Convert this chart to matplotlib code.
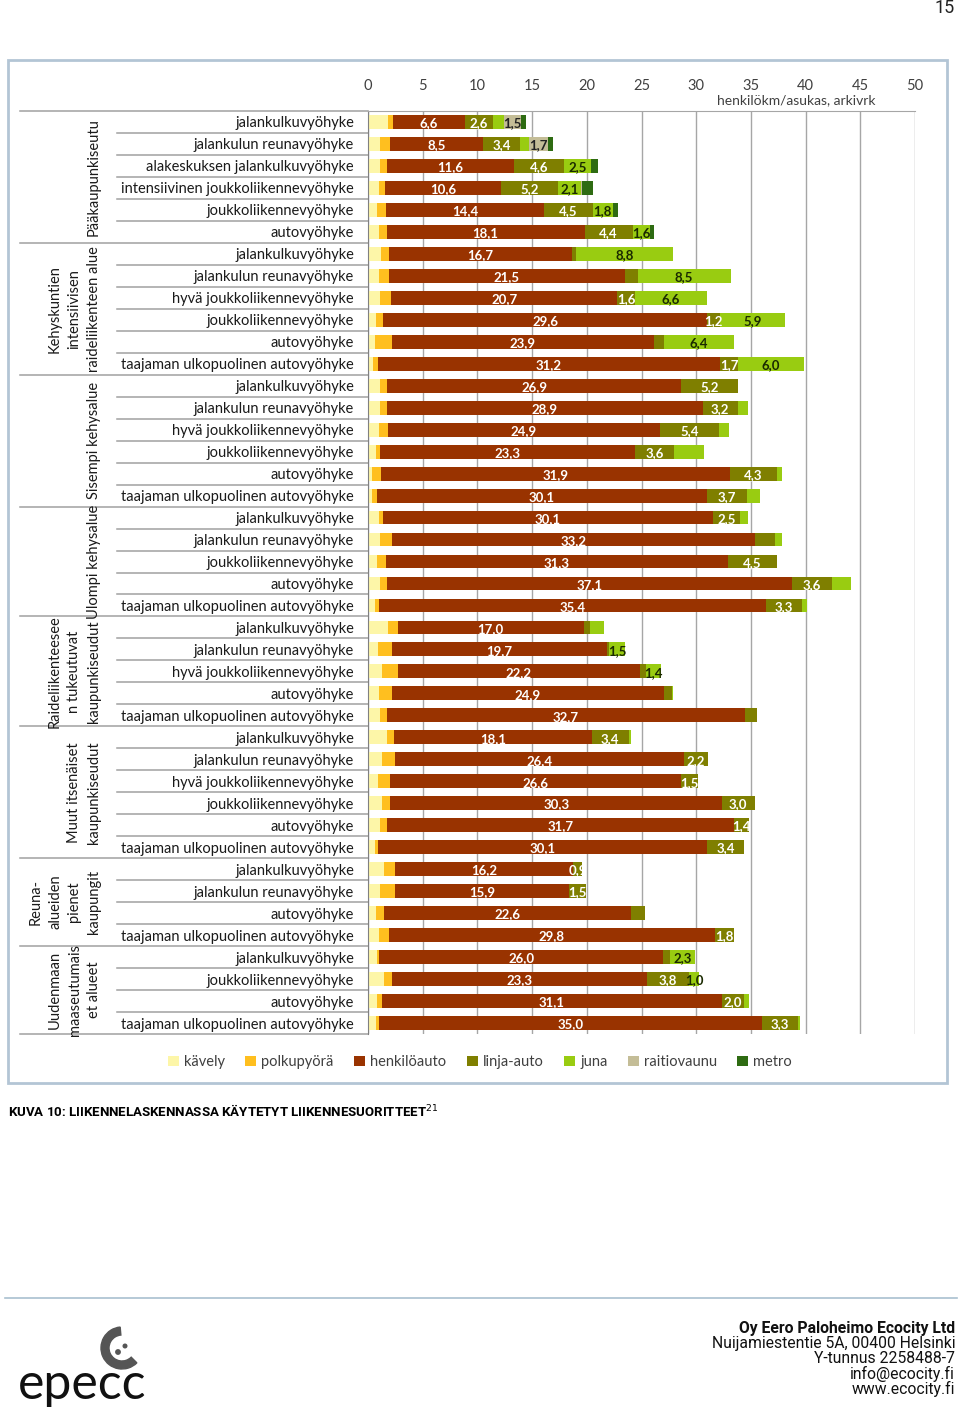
import matplotlib
matplotlib.use("Agg")
import matplotlib.pyplot as plt
import matplotlib.transforms as mtransforms
from matplotlib.patches import Rectangle, Wedge, Circle
import numpy as np

plt.rcParams['font.family'] = ['Lato', 'DejaVu Sans']

# --- data -------------------------------------------------------------
groups = ["Pääkaupunkiseutu",
          "Kehyskuntien\nintensiivisen\nraideliikenteen alue",
          "Sisempi kehysalue",
          "Ulompi kehysalue",
          "Raideliikenteesee\nn tukeutuvat\nkaupunkiseudut",
          "Muut itsenäiset\nkaupunkiseudut",
          "Reuna-\nalueiden\npienet\nkaupungit",
          "Uudenmaan\nmaaseutumais\net alueet"]
group_sizes = [6, 6, 6, 5, 5, 6, 4, 4]

zones = [
    "jalankulkuvyöhyke", "jalankulun reunavyöhyke", "alakeskuksen jalankulkuvyöhyke",
    "intensiivinen joukkoliikennevyöhyke", "joukkoliikennevyöhyke", "autovyöhyke",
    "jalankulkuvyöhyke", "jalankulun reunavyöhyke", "hyvä joukkoliikennevyöhyke",
    "joukkoliikennevyöhyke", "autovyöhyke", "taajaman ulkopuolinen autovyöhyke",
    "jalankulkuvyöhyke", "jalankulun reunavyöhyke", "hyvä joukkoliikennevyöhyke",
    "joukkoliikennevyöhyke", "autovyöhyke", "taajaman ulkopuolinen autovyöhyke",
    "jalankulkuvyöhyke", "jalankulun reunavyöhyke", "joukkoliikennevyöhyke",
    "autovyöhyke", "taajaman ulkopuolinen autovyöhyke",
    "jalankulkuvyöhyke", "jalankulun reunavyöhyke", "hyvä joukkoliikennevyöhyke",
    "autovyöhyke", "taajaman ulkopuolinen autovyöhyke",
    "jalankulkuvyöhyke", "jalankulun reunavyöhyke", "hyvä joukkoliikennevyöhyke",
    "joukkoliikennevyöhyke", "autovyöhyke", "taajaman ulkopuolinen autovyöhyke",
    "jalankulkuvyöhyke", "jalankulun reunavyöhyke", "autovyöhyke",
    "taajaman ulkopuolinen autovyöhyke",
    "jalankulkuvyöhyke", "joukkoliikennevyöhyke", "autovyöhyke",
    "taajaman ulkopuolinen autovyöhyke",
]

kavely = [1.8, 1.1, 1.1, 1.0, 0.8, 1.0,
          1.2, 1.0, 1.1, 0.7, 0.6, 0.5,
          1.1, 1.1, 1.0, 0.7, 0.4, 0.4,
          1.0, 1.1, 0.8, 1.1, 0.6,
          1.8, 0.9, 1.3, 1.0, 1.1,
          1.7, 1.3, 0.9, 1.3, 1.1, 0.6,
          1.5, 1.1, 0.7, 1.0,
          0.8, 1.5, 0.8, 0.7]
polkupyora = [0.45, 0.9, 0.6, 0.55, 0.85, 0.7,
              0.75, 0.95, 1.0, 0.7, 1.6, 0.45,
              0.65, 0.6, 0.8, 0.4, 0.8, 0.45,
              0.4, 1.05, 0.8, 0.6, 0.4,
              0.9, 1.25, 1.4, 1.15, 0.65,
              0.65, 1.15, 1.15, 0.75, 0.65, 0.3,
              1.0, 1.4, 0.75, 0.9,
              0.2, 0.7, 0.45, 0.3]
henkiloauto = [6.6, 8.5, 11.6, 10.6, 14.4, 18.1,
               16.7, 21.5, 20.7, 29.6, 23.9, 31.2,
               26.9, 28.9, 24.9, 23.3, 31.9, 30.1,
               30.1, 33.2, 31.3, 37.1, 35.4,
               17.0, 19.7, 22.2, 24.9, 32.7,
               18.1, 26.4, 26.6, 30.3, 31.7, 30.1,
               16.2, 15.9, 22.6, 29.8,
               26.0, 23.3, 31.1, 35.0]
linja_auto = [2.6, 3.4, 4.6, 5.2, 4.5, 4.4,
              0.4, 1.2, 1.6, 1.2, 0.95, 1.7,
              5.2, 3.2, 5.4, 3.6, 4.3, 3.7,
              2.5, 1.85, 4.5, 3.6, 3.3,
              0.6, 0.15, 0.5, 0.7, 1.15,
              3.4, 2.2, 1.5, 3.0, 1.4, 3.4,
              0.9, 1.5, 1.3, 1.8,
              0.6, 3.8, 2.0, 3.3]
juna = [1.0, 0.85, 2.5, 2.1, 1.8, 1.6,
        8.8, 8.5, 6.6, 5.9, 6.4, 6.0,
        0.0, 0.95, 0.9, 2.7, 0.45, 1.2,
        0.7, 0.6, 0.0, 1.75, 0.4,
        1.25, 1.5, 1.4, 0.15, 0.0,
        0.2, 0.0, 0.0, 0.0, 0.0, 0.0,
        0.0, 0.0, 0.0, 0.0,
        2.3, 1.0, 0.5, 0.2]
raitiovaunu = [1.5, 1.7, 0.0, 0.15, 0.0, 0.0] + [0.0] * 36
metro = [0.45, 0.5, 0.65, 0.95, 0.5, 0.3] + [0.0] * 36

# which segments carry a value label in the original
auto_lbl = [1] * 42
linja_lbl = [1, 1, 1, 1, 1, 1,
             0, 0, 1, 1, 0, 1,
             1, 1, 1, 1, 1, 1,
             1, 0, 1, 1, 1,
             0, 0, 0, 0, 0,
             1, 1, 1, 1, 1, 1,
             1, 1, 0, 1,
             0, 1, 1, 1]
juna_lbl = [0, 0, 1, 1, 1, 1,
            1, 1, 1, 1, 1, 1] + [0] * 12 + [1, 1] + [0] * 12 + [1, 1, 0, 0]
raitio_lbl = [1, 1] + [0] * 40
none_lbl = [0] * 42

series = [
    ("kävely", kavely, "#FDF6A8", none_lbl, None),
    ("polkupyörä", polkupyora, "#FFBF1F", none_lbl, None),
    ("henkilöauto", henkiloauto, "#993300", auto_lbl, "white"),
    ("linja-auto", linja_auto, "#7F7F00", linja_lbl, "white"),
    ("juna", juna, "#99CC11", juna_lbl, "#1A2A00"),
    ("raitiovaunu", raitiovaunu, "#C4BD97", raitio_lbl, "#222222"),
    ("metro", metro, "#2E6B12", none_lbl, None),
]

# --- figure -------------------------------------------------------------
W, H = 960, 1407
fig = plt.figure(figsize=(W / 100, H / 100), dpi=100)

page = fig.add_axes([0, 0, 1, 1])
page.set_xlim(0, W)
page.set_ylim(H, 0)
page.axis('off')

page.add_patch(Rectangle((8, 60), 939, 1023, fill=False, edgecolor='#B3C5D5', lw=2))
page.plot([5, 957], [1298, 1298], color='#A9C0D0', lw=1.2)
page.text(955, 8, "15", ha='right', va='center', fontsize=13, color='#222222',
          family=['Liberation Sans Narrow', 'Roboto'])

ax = fig.add_axes([368 / W, 1 - 1034 / H, 547 / W, 923 / H])
n = len(zones)
rows = np.arange(n)
left = np.zeros(n)
for name, vals, col, lbl, tcol in series:
    vals = np.array(vals)
    ax.barh(rows, vals, left=left, height=0.63, color=col, label=name, zorder=2)
    for i in range(n):
        if lbl[i] and vals[i] > 0:
            ax.text(left[i] + vals[i] / 2, i + 0.06, f"{vals[i]:.1f}".replace('.', ','),
                    ha='center', va='center', fontsize=9.5, fontweight='bold',
                    color=tcol, zorder=3)
    left = left + vals

ax.set_xlim(0, 50)
ax.set_ylim(n - 0.5, -0.5)
ax.xaxis.tick_top()
ax.set_xticks(range(0, 51, 5))
ax.tick_params(axis='x', length=0, pad=13, labelsize=10.5, labelcolor='#404040')
ax.set_yticks(rows)
ax.set_yticklabels(zones)
ax.tick_params(axis='y', length=0, pad=10, labelsize=10.5, labelcolor='#1A1A1A')
ax.set_axisbelow(True)
ax.xaxis.grid(True, color='#A6A6A6', lw=1)
for s in ['right', 'bottom']:
    ax.spines[s].set_visible(False)
ax.spines['left'].set_color('#808080')
ax.spines['top'].set_color('#A6A6A6')

# table lines on the left
trans = mtransforms.blended_transform_factory(ax.transAxes, ax.transData)
bounds = np.cumsum(group_sizes)
x_grp = (20 - 368) / 547
x_row = (117 - 368) / 547
for i in range(n - 1):
    y = i + 0.5
    x0 = x_grp if (i + 1) in bounds else x_row
    ax.plot([x0, 0], [y, y], transform=trans, color='#A0A0A0', lw=1.1, clip_on=False)
ax.plot([x_grp, 0], [-0.5, -0.5], transform=trans, color='#A0A0A0', lw=1.1, clip_on=False)
ax.plot([x_grp, 0], [n - 0.5, n - 0.5], transform=trans, color='#A0A0A0', lw=1.1, clip_on=False)

start = 0
for g, size in zip(groups, group_sizes):
    ax.text((101 - 368) / 547, start + (size - 1) / 2, g, transform=trans, rotation=90,
            ha='right', va='center', multialignment='center', fontsize=10.5,
            linespacing=1.5, color='#1A1A1A')
    start += size

fig.text(796 / W, 1 - 100 / H, "henkilökm/asukas, arkivrk", ha='center', va='center',
         fontsize=10, color='#404040')

fig.legend(loc='center', bbox_to_anchor=(480 / W, 1 - 1062 / H), ncol=7, frameon=False,
           fontsize=10.5, handlelength=0.75, handleheight=0.75, handletextpad=0.35,
           columnspacing=1.4, labelcolor='#404040')

# caption and footer
page.text(8, 1111, "KUVA 10: LIIKENNELASKENNASSA KÄYTETYT LIIKENNESUORITTEET$^{21}$",
          ha='left', va='center', fontsize=9.5, fontweight='bold',
          family=['Liberation Sans Narrow', 'Roboto'])

footer = ["Oy Eero Paloheimo Ecocity Ltd", "Nuijamiestentie 5A, 00400 Helsinki",
          "Y-tunnus 2258488-7", "info@ecocity.fi", "www.ecocity.fi"]
for k, line in enumerate(footer):
    page.text(955, 1328 + k * 15.2, line, ha='right', va='center', fontsize=11.3,
              fontweight='bold' if k == 0 else 'normal', color='#111111',
              family=['Liberation Sans Narrow', 'Roboto'])

# logo
page.add_patch(Wedge((122, 1348), 21, 45, 265, width=8, color='#555555'))
page.add_patch(Circle((118, 1352), 2.2, color='#555555'))
page.add_patch(Circle((125, 1346), 1.8, color='#555555'))
page.text(18, 1399, "epecc", ha='left', va='baseline', fontsize=36, fontweight='normal',
          color='#111111')

fig.savefig("out.png", dpi=100, facecolor='white')
